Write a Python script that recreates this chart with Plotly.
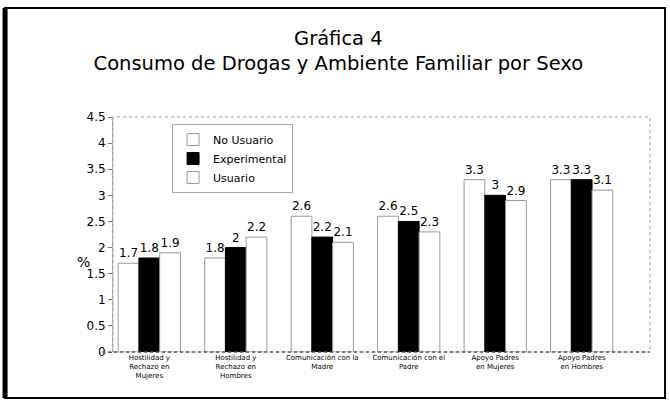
import plotly.graph_objects as go

categories = [
    "Hostilidad y<br>Rechazo en<br>Mujeres",
    "Hostilidad y<br>Rechazo en<br>Hombres",
    "Comunicación con la<br>Madre",
    "Comunicación con el<br>Padre",
    "Apoyo Padres<br>en Mujeres",
    "Apoyo Padres<br>en Hombres",
]
no_usuario = [1.7, 1.8, 2.6, 2.6, 3.3, 3.3]
experimental = [1.8, 2.0, 2.2, 2.5, 3.0, 3.3]
usuario = [1.9, 2.2, 2.1, 2.3, 2.9, 3.1]
y_ticks = [0, 0.5, 1, 1.5, 2, 2.5, 3, 3.5, 4, 4.5]
y_tick_labels = ["0", "0.5", "1", "1.5", "2", "2.5", "3", "3.5", "4", "4.5"]

FONT = "DejaVu Sans, sans-serif"

fig = go.Figure()
series = [
    ("No Usuario", no_usuario, "white", "#9a9a9a"),
    ("Experimental", experimental, "black", "black"),
    ("Usuario", usuario, "white", "#9a9a9a"),
]
for name, vals, fill, line in series:
    fig.add_trace(go.Bar(
        name=name, x=categories, y=vals,
        marker=dict(color=fill, line=dict(color=line, width=1)),
        text=[f"{v:g}" for v in vals], textposition="outside",
        textfont=dict(size=12, color="black", family=FONT),
        cliponaxis=False,
    ))

fig.update_layout(
    width=670, height=409,
    margin=dict(l=113, r=20, t=117, b=57),
    paper_bgcolor="white", plot_bgcolor="white",
    barmode="group", bargap=0.28, bargroupgap=0.0,
    font=dict(family=FONT, color="black"),
    title=dict(
        text="Gráfica 4<br>Consumo de Drogas y Ambiente Familiar por Sexo",
        x=0.505, xanchor="center", y=0.89, yanchor="top",
        font=dict(size=19.5, family=FONT, color="black"),
    ),
    legend=dict(
        x=0.11, y=0.97, xanchor="left", yanchor="top",
        bgcolor="white", bordercolor="#aaaaaa", borderwidth=1,
        font=dict(size=11, family=FONT, color="black"),
        tracegroupgap=2,
    ),
    showlegend=True,
)
fig.update_xaxes(
    range=[-0.42, 5.79], showgrid=False, showline=False, zeroline=False,
    ticks="", tickfont=dict(size=7, family=FONT, color="black"),
)
fig.update_yaxes(
    range=[0, 4.5], tickvals=y_ticks, ticktext=y_tick_labels,
    showgrid=False, zeroline=False, showline=True, linecolor="#aaaaaa",
    linewidth=1, ticks="outside", ticklen=4, tickcolor="#777777",
    tickfont=dict(size=12, family=FONT, color="black"),
)
# plot border (dotted) and outer frame
fig.add_shape(type="rect", xref="paper", yref="paper", x0=0, x1=1, y0=0, y1=1,
              line=dict(color="#999999", width=1, dash="dot"), layer="below")
fig.add_shape(type="line", xref="paper", yref="paper", x0=-0.02, x1=1.0, y0=0, y1=0,
              line=dict(color="#555555", width=1.5, dash="dot"))
fig.add_shape(type="rect", xref="paper", yref="paper", x0=-0.201, x1=1.028,
              y0=-0.196, y1=1.464, line=dict(color="black", width=2))
fig.add_shape(type="line", xref="paper", yref="paper", x0=-0.201, x1=-0.201,
              y0=-0.196, y1=1.464, line=dict(color="black", width=5))
fig.add_annotation(text="%", xref="paper", yref="paper", x=-0.07, y=0.383,
                   showarrow=False, font=dict(size=14, family=FONT, color="black"))

fig.write_html("out.html", config={"displayModeBar": False},
               post_script="document.body.style.margin='0';")
